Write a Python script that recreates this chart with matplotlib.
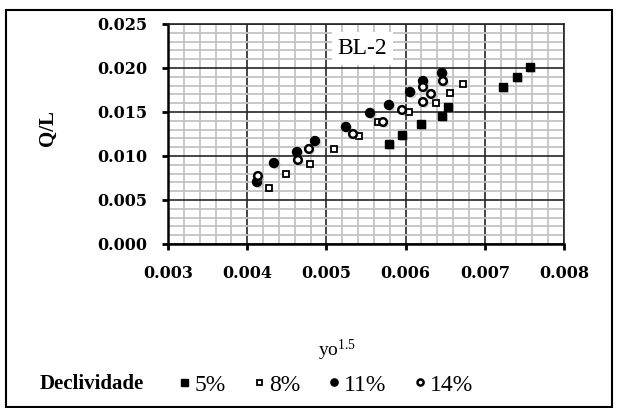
import matplotlib
matplotlib.use('Agg')
import matplotlib.pyplot as plt
import matplotlib.patheffects as pe
from matplotlib.patches import Rectangle
from matplotlib.ticker import MultipleLocator, FormatStrFormatter

plt.rcParams['mathtext.default'] = 'regular'

# yo^1.5 and Q/L for each slope (declividade)
x_5 = [0.00579, 0.005955, 0.006194, 0.00646, 0.006535, 0.00723, 0.007407, 0.007571]
y_5 = [0.01136, 0.01239, 0.01364, 0.01455, 0.01557, 0.01784, 0.01898, 0.02011]

x_8 = [0.004275, 0.00449, 0.00479, 0.0051, 0.00541, 0.00565, 0.00604, 0.00638, 0.00656, 0.00672]
y_8 = [0.00636, 0.00795, 0.00909, 0.0108, 0.01227, 0.01386, 0.0150, 0.01602, 0.01716, 0.01818]

x_11 = [0.004124, 0.004338, 0.004629, 0.004856, 0.005247, 0.005551, 0.00579, 0.006056, 0.00622, 0.00646]
y_11 = [0.00705, 0.0092, 0.01045, 0.0117, 0.0133, 0.01489, 0.0158, 0.01727, 0.01852, 0.01943]

x_14 = [0.004136, 0.004641, 0.00478, 0.005336, 0.005715, 0.005955, 0.00622, 0.006321, 0.00622, 0.006472]
y_14 = [0.00773, 0.00955, 0.0108, 0.0125, 0.01386, 0.01523, 0.01614, 0.01705, 0.01784, 0.01852]

labels = ['5%', '8%', '11%', '14%']


def main():
    fig = plt.figure(figsize=(6.19, 4.08), dpi=100)
    ax = fig.add_axes([168 / 619, 1 - 244 / 408, 396 / 619, 220 / 408])

    ax.set_xlim(0.003, 0.008)
    ax.set_ylim(0.0, 0.025)
    ax.xaxis.set_major_locator(MultipleLocator(0.001))
    ax.xaxis.set_minor_locator(MultipleLocator(0.0002))
    ax.yaxis.set_major_locator(MultipleLocator(0.005))
    ax.yaxis.set_minor_locator(MultipleLocator(0.001))
    ax.xaxis.set_major_formatter(FormatStrFormatter('%.3f'))
    ax.yaxis.set_major_formatter(FormatStrFormatter('%.3f'))

    ax.grid(which='minor', color='#c4c4c4', linewidth=1.3)
    ax.grid(which='major', color='#252525', linewidth=1.2)
    ax.set_axisbelow(True)
    for s in ax.spines.values():
        s.set_color('#252525')
        s.set_linewidth(1.2)
    ax.spines['left'].set_color('black')
    ax.spines['bottom'].set_color('black')
    ax.spines['left'].set_linewidth(1.8)
    ax.spines['bottom'].set_linewidth(1.8)

    ax.tick_params(which='major', direction='out', length=4, width=2, pad=11,
                   labelsize=11.5)
    ax.tick_params(which='minor', length=0)
    for lab in ax.get_xticklabels() + ax.get_yticklabels():
        lab.set_family('DejaVu Serif')
        lab.set_fontweight('bold')

    shadow = [pe.SimplePatchShadow(offset=(1.5, -1.5), shadow_rgbFace='#909090', alpha=0.35),
              pe.Normal()]
    ax.plot(x_5, y_5, 's', color='black', markersize=6, label=labels[0], zorder=3,
            path_effects=shadow)
    ax.plot(x_8, y_8, 's', markerfacecolor='white', markeredgecolor='black',
            markersize=5, markeredgewidth=1.3, label=labels[1], zorder=3)
    ax.plot(x_11, y_11, 'o', color='black', markersize=6.5, label=labels[2], zorder=3,
            path_effects=shadow)
    ax.plot(x_14, y_14, 'o', markerfacecolor='white', markeredgecolor='black',
            markersize=5.5, markeredgewidth=1.8, label=labels[3], zorder=4,
            path_effects=shadow)

    ax.text(0.00545, 0.0222, 'BL-2', family='Liberation Serif', fontsize=17,
            ha='center', va='center',
            bbox=dict(facecolor='white', edgecolor='none', pad=4), zorder=5)

    fig.text(48 / 619, 1 - 128 / 408, 'Q/L', rotation=90, ha='center', va='center',
             family='Liberation Serif', fontweight='bold', fontsize=15)
    fig.text(337 / 619, 1 - 350 / 408, 'yo$^{1.5}$', ha='center', va='center',
             family='Liberation Serif', fontsize=14)

    fig.text(40 / 619, 1 - 384 / 408, 'Declividade', ha='left', va='center',
             family='Liberation Serif', fontweight='bold', fontsize=15)
    leg = fig.legend(loc='center', bbox_to_anchor=(326 / 619, 1 - 385 / 408), ncol=4,
                     frameon=False, handlelength=0.5, handletextpad=0.15,
                     columnspacing=1.2, markerscale=0.8,
                     prop={'family': 'Liberation Serif', 'size': 17})
    for h in leg.legend_handles:
        h.set_path_effects([pe.Normal()])

    fig.patches.append(Rectangle((6 / 619, 0.002), 606 / 619, 1 - 10 / 408 - 0.002,
                                 transform=fig.transFigure, fill=False,
                                 edgecolor='black', linewidth=1.5))

    fig.savefig('out.png', dpi=100)


if __name__ == '__main__':
    main()
